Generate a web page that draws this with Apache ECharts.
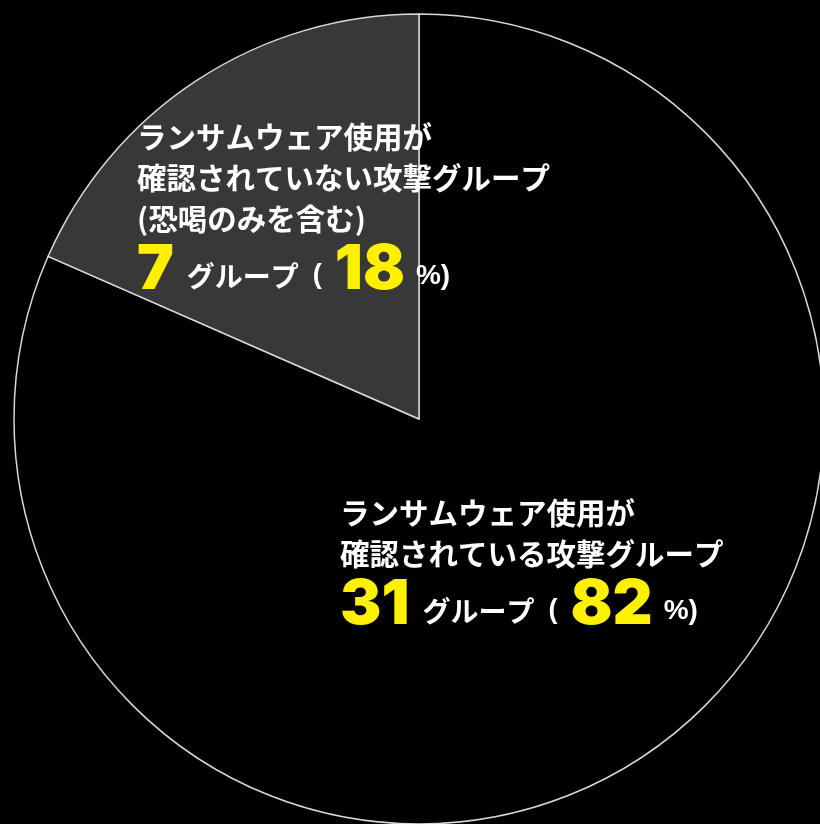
<!DOCTYPE html>
<html>
<head>
<meta charset="utf-8">
<script src="https://cdn.jsdelivr.net/npm/echarts@6/dist/echarts.min.js"></script>
<style>html,body{margin:0;padding:0;background:#000;}#c{width:820px;height:824px;}</style>
</head>
<body>
<div id="c"></div>
<script>
// Data
const categories = ['ransomware', 'noRansomware'];
const labelLines = [
  ['ランサムウェア使用が', '確認されている攻撃グループ'],
  ['ランサムウェア使用が', '確認されていない攻撃グループ', '(恐喝のみを含む)']
];
const groupCounts = [31, 7];
const percents = [82, 18];
const unitText = 'グループ';

const sliceColors = ['#000000', '#383838'];
const labelPos = [[340, 492], [137, 116]];

const chart = echarts.init(document.getElementById('c'));

const rich = {
  t: { fontSize: 29.5, fontWeight: 'bold', fill: '#ffffff', fontFamily: 'Noto Sans CJK JP', lineHeight: 41 },
  n: { fontSize: 62, fontWeight: 900, fill: '#fdf000', fontFamily: 'Inter', lineHeight: 62, verticalAlign: 'bottom', height: 62 },
  u: { fontSize: 28, fontWeight: 'bold', fill: '#ffffff', fontFamily: 'Noto Sans CJK JP', verticalAlign: 'bottom', height: 50, padding: [0, 10, 0, 13] },
  o: { fontSize: 27, fontWeight: 'bold', fill: '#ffffff', fontFamily: 'Liberation Sans', verticalAlign: 'bottom', height: 50, padding: [0, 13, 0, 4] },
  c: { fontSize: 28, fontWeight: 'bold', fill: '#ffffff', fontFamily: 'Liberation Sans', verticalAlign: 'bottom', height: 50, padding: [0, 0, 0, 11] }
};

function buildText(i) {
  const lines = labelLines[i].map(s => '{t|' + s + '}');
  lines.push('{n|' + groupCounts[i] + '}{u|' + unitText + '}{o|(}{n|' + percents[i] + '}{c|%)}');
  return lines.join('\n');
}

chart.setOption({
  backgroundColor: '#000000',
  animation: false,
  series: [{
    type: 'pie',
    center: [419, 419],
    radius: 405,
    startAngle: 90,
    clockwise: true,
    label: { show: false },
    labelLine: { show: false },
    emphasis: { disabled: true },
    itemStyle: { borderColor: '#d8d8d8', borderWidth: 1.5 },
    data: categories.map((c, i) => ({ name: c, value: groupCounts[i], itemStyle: { color: sliceColors[i] } }))
  }],
  graphic: {
    elements: categories.map((c, i) => ({
      type: 'text',
      x: labelPos[i][0],
      y: labelPos[i][1],
      z: 100,
      silent: true,
      style: { text: buildText(i), rich: rich, align: 'left', verticalAlign: 'top', fill: '#fff' }
    }))
  }
});
</script>
</body>
</html>
